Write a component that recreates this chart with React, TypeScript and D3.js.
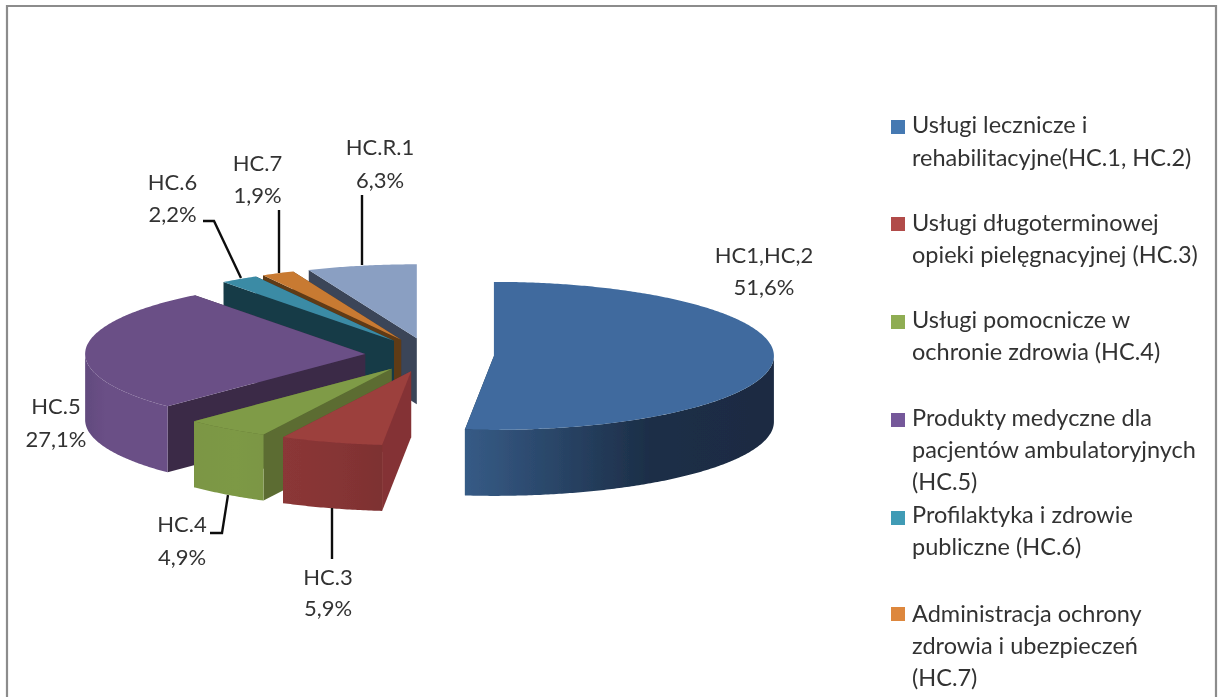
import React, { useMemo } from "react";
import * as d3 from "d3";

const sliceNames = ["HC1,HC,2", "HC.3", "HC.4", "HC.5", "HC.6", "HC.7", "HC.R.1"];
const sliceValues = [51.6, 5.9, 4.9, 27.1, 2.2, 1.9, 6.3];
const valueLabels = ["51,6%", "5,9%", "4,9%", "27,1%", "2,2%", "1,9%", "6,3%"];

const legendColors = ["#4579b2", "#b14b49", "#8fad52", "#75589a", "#3f9bb5", "#dd873d"];
const legendLines = [
  ["Usługi lecznicze i", "rehabilitacyjne(HC.1, HC.2)"],
  ["Usługi długoterminowej", "opieki pielęgnacyjnej (HC.3)"],
  ["Usługi pomocnicze w", "ochronie zdrowia (HC.4)"],
  ["Produkty medyczne dla", "pacjentów ambulatoryjnych", "(HC.5)"],
  ["Profilaktyka i zdrowie", "publiczne (HC.6)"],
  ["Administracja ochrony", "zdrowia i ubezpieczeń", "(HC.7)"],
];
const legendMarkerTops = [120, 217, 315, 413, 511, 607];
const legendBaselines = [
  [133, 165.5],
  [231, 263],
  [328, 360],
  [426, 458, 490],
  [523, 555],
  [622, 654, 686],
];

const topColors = ["#3f6b9e", "#9c3f3e", "#7f9b47", "#6a4f86", "#3b8ba5", "#c87a33", "#8a9fc2"];
const faceColors = ["#1c2e47", "#843334", "#5b6c32", "#3b2a47", "#193b47", "#5f3a17", "#3a4559"];
const wallStops = [
  ["#365b86", "#1c2e47", "#1a2b42"],
  ["#8b3737", "#853434", "#7d3132"],
  ["#7b9644", "#7d9945", "#7b9644"],
  ["#624b7e", "#6a4f86", "#6a4f86"],
  ["#193b47", "#193b47", "#193b47"],
  ["#5f3a17", "#5f3a17", "#5f3a17"],
  ["#3a4559", "#3a4559", "#3a4559"],
];

// paint order, back to front
const paintOrder = [6, 5, 4, 3, 2, 1, 0];

const labelCenters = [
  [764, 263, 295],
  [328, 585, 616],
  [182, 532, 565],
  [56, 414, 447],
  [172.5, 190, 222],
  [257.5, 171, 203],
  [380, 155, 188],
];
const leaders: (number[][] | null)[] = [
  null,
  [[332, 508], [332, 559]],
  [[210, 533], [222, 533], [228, 495]],
  null,
  [[203, 221], [214, 221], [241, 278]],
  [[279, 210], [279, 273]],
  [[362, 195], [362, 265]],
];

const W = 1223;
const H = 697;
const CX = 429.5;
const CY = 355;
const RX = 280;
const RY = 74;
const DEPTH = 66;
const EXPLODE = 64.5;
const FONT = "Lato, 'Open Sans', sans-serif";
const TEXT = "#333333";
const FS_LABEL = 22;
const FS_LEGEND = 23.5;

export default function App() {
  const slices = useMemo(() => {
    const pie = d3.pie<number>().sort(null).value((d) => d)(sliceValues);
    const line = d3.line();
    return pie.map((p) => {
      const mid = (p.startAngle + p.endAngle) / 2;
      const ax = CX + EXPLODE * Math.sin(mid);
      const ay = CY - (EXPLODE * RY * Math.cos(mid)) / RX;
      const rim = (t: number, dy = 0): [number, number] => [
        ax + RX * Math.sin(t),
        ay - RY * Math.cos(t) + dy,
      ];
      const sweep = (a: number, b: number, dy = 0) => {
        const n = Math.max(2, Math.ceil((b - a) / 0.01));
        return d3.range(n + 1).map((i) => rim(a + ((b - a) * i) / n, dy));
      };
      const top = line([[ax, ay], ...sweep(p.startAngle, p.endAngle), [ax, ay]]) + "Z";
      const face = (t: number) =>
        line([[ax, ay], rim(t), rim(t, DEPTH), [ax, ay + DEPTH]]) + "Z";
      const w0 = Math.max(p.startAngle, Math.PI / 2);
      const w1 = Math.min(p.endAngle, (3 * Math.PI) / 2);
      const wallPts = w1 > w0 ? [...sweep(w0, w1), ...sweep(w0, w1, DEPTH).reverse()] : null;
      const xs = wallPts ? d3.extent(wallPts, (q) => q[0]) : [0, 1];
      return {
        top,
        startFace: face(p.startAngle),
        endFace: face(p.endAngle),
        wall: wallPts ? line(wallPts) + "Z" : null,
        x0: xs[0] as number,
        x1: xs[1] as number,
      };
    });
  }, []);

  const leaderLine = d3.line();

  return (
    <svg
      width={W}
      height={H}
      viewBox={`0 0 ${W} ${H}`}
      style={{ position: "absolute", left: 0, top: 0, background: "#fff" }}
    >
      <defs>
        <filter id="soft" x="0" y="0" width="100%" height="100%">
          <feGaussianBlur stdDeviation="0.45" />
        </filter>
        {slices.map((s, i) => (
          <linearGradient
            key={i}
            id={`wall${i}`}
            gradientUnits="userSpaceOnUse"
            x1={s.x1}
            x2={s.x0}
            y1={0}
            y2={0}
          >
            <stop offset="0" stopColor={wallStops[i][2]} />
            <stop offset={i === 3 ? "0.75" : "0.4"} stopColor={wallStops[i][1]} />
            <stop offset="1" stopColor={wallStops[i][0]} />
          </linearGradient>
        ))}
      </defs>
      <g filter="url(#soft)">
        <rect x={0} y={0} width={W} height={H} fill="#ffffff" />
        <path d={`M7 ${H}V6H1216V${H}`} fill="none" stroke="#8c8c8c" strokeWidth={2.2} />
        {paintOrder.map((i) => {
          const s = slices[i];
          return (
            <g key={sliceNames[i]}>
              <path d={s.endFace} fill={faceColors[i]} />
              <path d={s.startFace} fill={faceColors[i]} />
              {s.wall && <path d={s.wall} fill={`url(#wall${i})`} />}
              <path d={s.top} fill={topColors[i]} />
            </g>
          );
        })}
        {leaders.map((pts, i) =>
          pts ? (
            <path
              key={i}
              d={leaderLine(pts as [number, number][]) as string}
              fill="none"
              stroke="#111111"
              strokeWidth={2.4}
            />
          ) : null
        )}
        <g fontFamily={FONT} fontSize={FS_LABEL} fill={TEXT} textAnchor="middle">
          {sliceNames.map((name, i) => (
            <g key={name}>
              <text x={labelCenters[i][0]} y={labelCenters[i][1]}>{name}</text>
              <text x={labelCenters[i][0]} y={labelCenters[i][2]}>{valueLabels[i]}</text>
            </g>
          ))}
        </g>
        <g fontFamily={FONT} fontSize={FS_LEGEND} fill={TEXT}>
          {legendLines.map((lines, i) => (
            <g key={i}>
              <rect x={891} y={legendMarkerTops[i]} width={14} height={14} fill={legendColors[i]} />
              {lines.map((t, j) => (
                <text key={j} x={912} y={legendBaselines[i][j]}>{t}</text>
              ))}
            </g>
          ))}
        </g>
      </g>
    </svg>
  );
}
